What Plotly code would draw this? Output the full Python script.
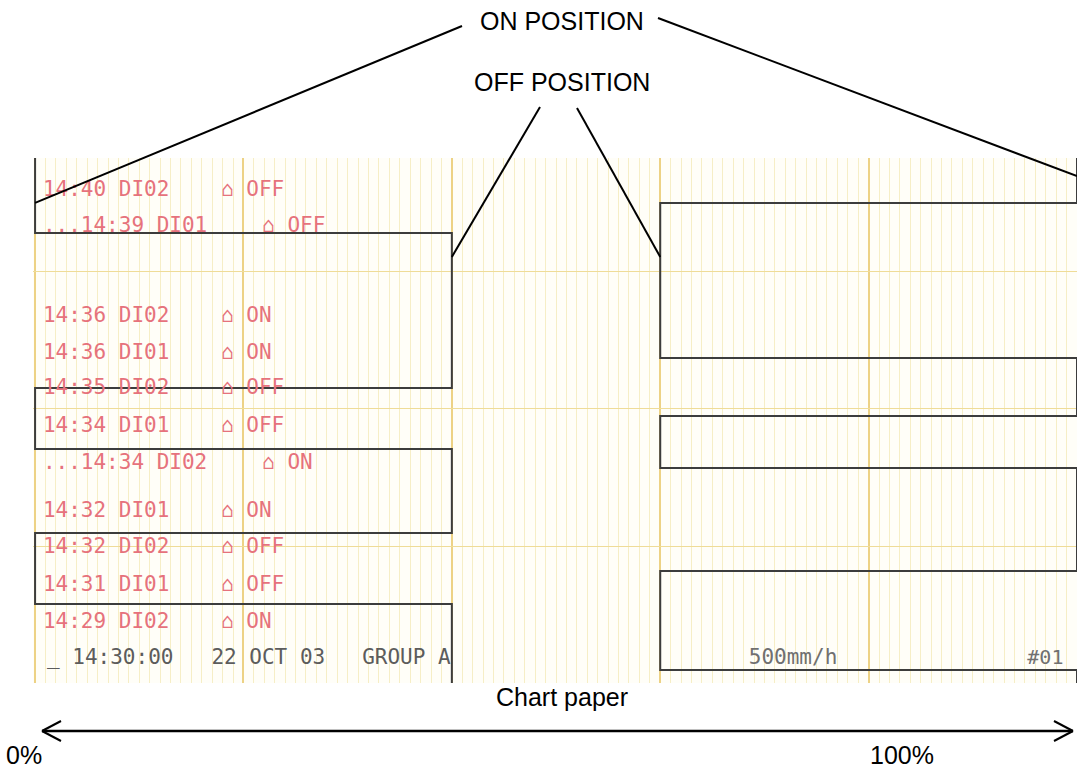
import plotly.graph_objects as go

# chart paper scale: pen position in % of paper width, paper feed in mm
x_range = [-0.2, 100.0]
y_range = [0.0, 38.32]

# pen trace DI01 (segments from top of paper to bottom)
di01_bounds = [38.32, 32.85, 21.53, 17.08, 10.95, 5.77, 0.0]
di01_states = ["ON", "OFF", "ON", "OFF", "ON", "OFF"]
di01_pos = {"ON": 0, "OFF": 40}

# pen trace DI02
di02_bounds = [38.32, 35.04, 23.72, 19.49, 15.69, 8.18, 0.95, 0.0]
di02_states = ["ON", "OFF", "ON", "OFF", "ON", "OFF", "ON"]
di02_pos = {"ON": 100, "OFF": 60}

# printed message log
log_y = [35.93, 33.28, 26.74, 24.01, 21.46, 18.69, 15.99, 12.48, 9.85, 7.08, 4.38]
log_time = ["14:40", "14:39", "14:36", "14:36", "14:35", "14:34",
            "14:34", "14:32", "14:32", "14:31", "14:29"]
log_channel = ["DI02", "DI01", "DI02", "DI01", "DI02", "DI01",
               "DI02", "DI01", "DI02", "DI01", "DI02"]
log_state = ["OFF", "OFF", "ON", "ON", "OFF", "OFF", "ON", "ON", "OFF", "OFF", "ON"]
log_cont = [False, True, False, False, False, False, True, False, False, False, False]

footer_y = 1.75
footer_parts = ["_ 14:30:00", "22 OCT 03", "GROUP A"]
footer_cols = [0.3, 12.3, 23.3]
footer_speed = "500mm/h"
footer_id = "#01"

# callouts: where the label lines touch the pen traces
on_targets = [(0, 35.04), (100, 37.0)]
off_targets = [(40, 31.1), (60, 31.1)]

W, H = 1077, 770
ML, MR, MT, MB = 33, 0, 158, 87
PW, PH = W - ML - MR, H - MT - MB

RED = "#e6727c"
PEN = "#3c3c3c"
MONO = "DejaVu Sans Mono"
SANS = "Liberation Sans, Arial"

x0 = 0.75      # first print column
pitch = 1.315  # printer column width in x units


def step_path(bounds, states, pos):
    xs, ys = [], []
    for i, s in enumerate(states):
        xs += [pos[s], pos[s]]
        ys += [bounds[i], bounds[i + 1]]
    return xs, ys


def px_x(px):
    return (px - ML) / PW


def px_y(py):
    return (H - MB - py) / PH


def dx(v):
    return (v - x_range[0]) / (x_range[1] - x_range[0])


def dy(v):
    return (v - y_range[0]) / (y_range[1] - y_range[0])


fig = go.Figure()

for bounds, states, pos in [(di01_bounds, di01_states, di01_pos),
                            (di02_bounds, di02_states, di02_pos)]:
    xs, ys = step_path(bounds, states, pos)
    fig.add_trace(go.Scatter(x=xs, y=ys, mode="lines",
                             line=dict(color=PEN, width=2), hoverinfo="skip"))

# message log text
left_txt, left_x, right_txt, right_x = [], [], [], []
for t, c, s, cont in zip(log_time, log_channel, log_state, log_cont):
    pre = "..." if cont else ""
    left_txt.append(pre + t + " " + c)
    left_x.append(x0)
    right_txt.append("\u2302 " + s)
    right_x.append(x0 + pitch * (13 + len(pre)))

fig.add_trace(go.Scatter(x=left_x, y=log_y, mode="text", text=left_txt,
                         textposition="middle right",
                         textfont=dict(family=MONO, size=21, color=RED)))
fig.add_trace(go.Scatter(x=right_x, y=log_y, mode="text", text=right_txt,
                         textposition="middle right",
                         textfont=dict(family=MONO, size=21, color=RED)))

fig.add_trace(go.Scatter(x=[x0 + pitch * c for c in footer_cols],
                         y=[footer_y] * len(footer_parts), mode="text",
                         text=footer_parts, textposition="middle right",
                         textfont=dict(family=MONO, size=21, color="#5c5c5c")))
fig.add_trace(go.Scatter(x=[68.5], y=[footer_y], mode="text", text=[footer_speed],
                         textposition="middle right",
                         textfont=dict(family=MONO, size=21, color="#707070")))
fig.add_trace(go.Scatter(x=[98.7], y=[footer_y], mode="text", text=[footer_id],
                         textposition="middle left",
                         textfont=dict(family=MONO, size=20, color="#707070")))

shapes = []
line_style = dict(color="black", width=2)
# ON POSITION callout lines
shapes.append(dict(type="line", xref="paper", yref="paper",
                   x0=px_x(462), y0=px_y(26),
                   x1=dx(on_targets[0][0]), y1=dy(on_targets[0][1]), line=line_style))
shapes.append(dict(type="line", xref="paper", yref="paper",
                   x0=px_x(658), y0=px_y(18),
                   x1=dx(on_targets[1][0]), y1=dy(on_targets[1][1]), line=line_style))
# OFF POSITION callout lines
shapes.append(dict(type="line", xref="paper", yref="paper",
                   x0=px_x(540), y0=px_y(107),
                   x1=dx(off_targets[0][0]), y1=dy(off_targets[0][1]), line=line_style))
shapes.append(dict(type="line", xref="paper", yref="paper",
                   x0=px_x(577), y0=px_y(108),
                   x1=dx(off_targets[1][0]), y1=dy(off_targets[1][1]), line=line_style))
# double headed arrow under the paper
ay = 731
shapes.append(dict(type="line", xref="paper", yref="paper",
                   x0=px_x(42), y0=px_y(ay), x1=px_x(1073), y1=px_y(ay),
                   line=dict(color="black", width=2.5)))
for tip, back in [(42, 61), (1073, 1054)]:
    for off in (-10, 10):
        shapes.append(dict(type="line", xref="paper", yref="paper",
                           x0=px_x(tip), y0=px_y(ay), x1=px_x(back), y1=px_y(ay + off),
                           line=dict(color="black", width=2)))

annotations = []
for txt, cx, cy in [("ON POSITION", 562, 21), ("OFF POSITION", 562, 82),
                    ("Chart paper", 562, 697), ("0%", 24, 755), ("100%", 902, 755)]:
    annotations.append(dict(text=txt, xref="paper", yref="paper",
                            x=px_x(cx), y=px_y(cy), xanchor="center", yanchor="middle",
                            showarrow=False,
                            font=dict(family=SANS, size=25, color="black")))

fig.update_layout(
    width=W, height=H,
    margin=dict(l=ML, r=MR, t=MT, b=MB, pad=0),
    paper_bgcolor="white",
    plot_bgcolor="#fffef8",
    showlegend=False,
    shapes=shapes,
    annotations=annotations,
    xaxis=dict(range=x_range, tick0=0, dtick=20, showgrid=True,
               gridcolor="#edd285", gridwidth=1.5, zeroline=False,
               showticklabels=False, ticks="", fixedrange=True,
               minor=dict(tick0=0, dtick=1, showgrid=True,
                          gridcolor="#f6eec6", gridwidth=1)),
    yaxis=dict(range=y_range, tick0=0, dtick=10, showgrid=True,
               gridcolor="#efdc98", gridwidth=1.2, zeroline=False,
               showticklabels=False, ticks="", fixedrange=True),
)

# page body has a default margin; remove it so the figure sits at 0,0
fig.write_html("out.html", config={"displayModeBar": False},
               post_script="document.body.style.margin='0';")
